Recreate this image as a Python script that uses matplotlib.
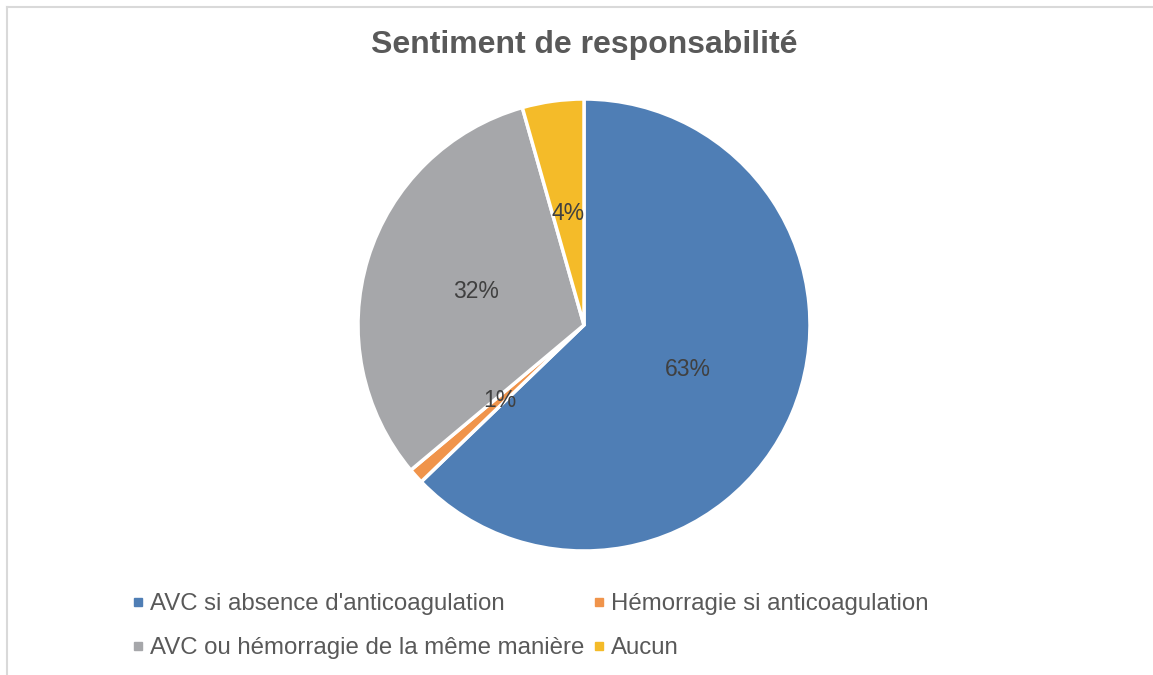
import matplotlib.pyplot as plt
from matplotlib.lines import Line2D

# pie data (percent)
categories = ["AVC si absence d'anticoagulation", "Hémorragie si anticoagulation",
              "AVC ou hémorragie de la même manière", "Aucun"]
values = [62.8, 1.1, 31.7, 4.4]
colors = ["#4F7EB5", "#F0944B", "#A6A7AA", "#F4BB29"]

plt.rcParams['font.family'] = ['Liberation Sans', 'DejaVu Sans']

fig = plt.figure(figsize=(11.53, 6.75), dpi=100)
W, H = 1153, 675

# chart frame (only top and left edges visible in the crop)
fig.add_artist(Line2D([7 / W, 7 / W], [0, 1 - 7 / H], color="#D9D9D9", lw=1.5))
fig.add_artist(Line2D([7 / W, 1], [1 - 7 / H, 1 - 7 / H], color="#D9D9D9", lw=1.5))

# pie: centre (584, 325), radius 226 px
cx, cy, r = 584, 325, 226
ax = fig.add_axes([(cx - r) / W, 1 - (cy + r) / H, 2 * r / W, 2 * r / H])
wedges, texts, autotexts = ax.pie(values, colors=colors, startangle=90, counterclock=False,
                                  autopct='%.0f%%', pctdistance=0.5,
                                  wedgeprops=dict(edgecolor='white', linewidth=2.5),
                                  textprops=dict(color='#404040', fontsize=16.5))
ax.set_xlim(-1, 1)
ax.set_ylim(-1, 1)
ax.set_aspect('equal')

fig.text(cx / W, 1 - 45 / H, "Sentiment de responsabilité", ha='center', va='center',
         fontsize=23, fontweight='bold', color='#595959')

# legend fills column by column, so reorder to read row by row
order = [0, 2, 1, 3]
handles = [Line2D([], [], marker='s', linestyle='', markersize=5.5, color=colors[i]) for i in order]
labels = [categories[i] for i in order]
fig.legend(handles, labels, ncol=2, loc='center left', bbox_to_anchor=(120 / W, 1 - 626 / H),
           frameon=False, fontsize=17.3, labelcolor='#595959', handlelength=0.5,
           handletextpad=0.25, columnspacing=0.35, labelspacing=0.92, borderpad=0)

fig.savefig("out.png", dpi=100)
